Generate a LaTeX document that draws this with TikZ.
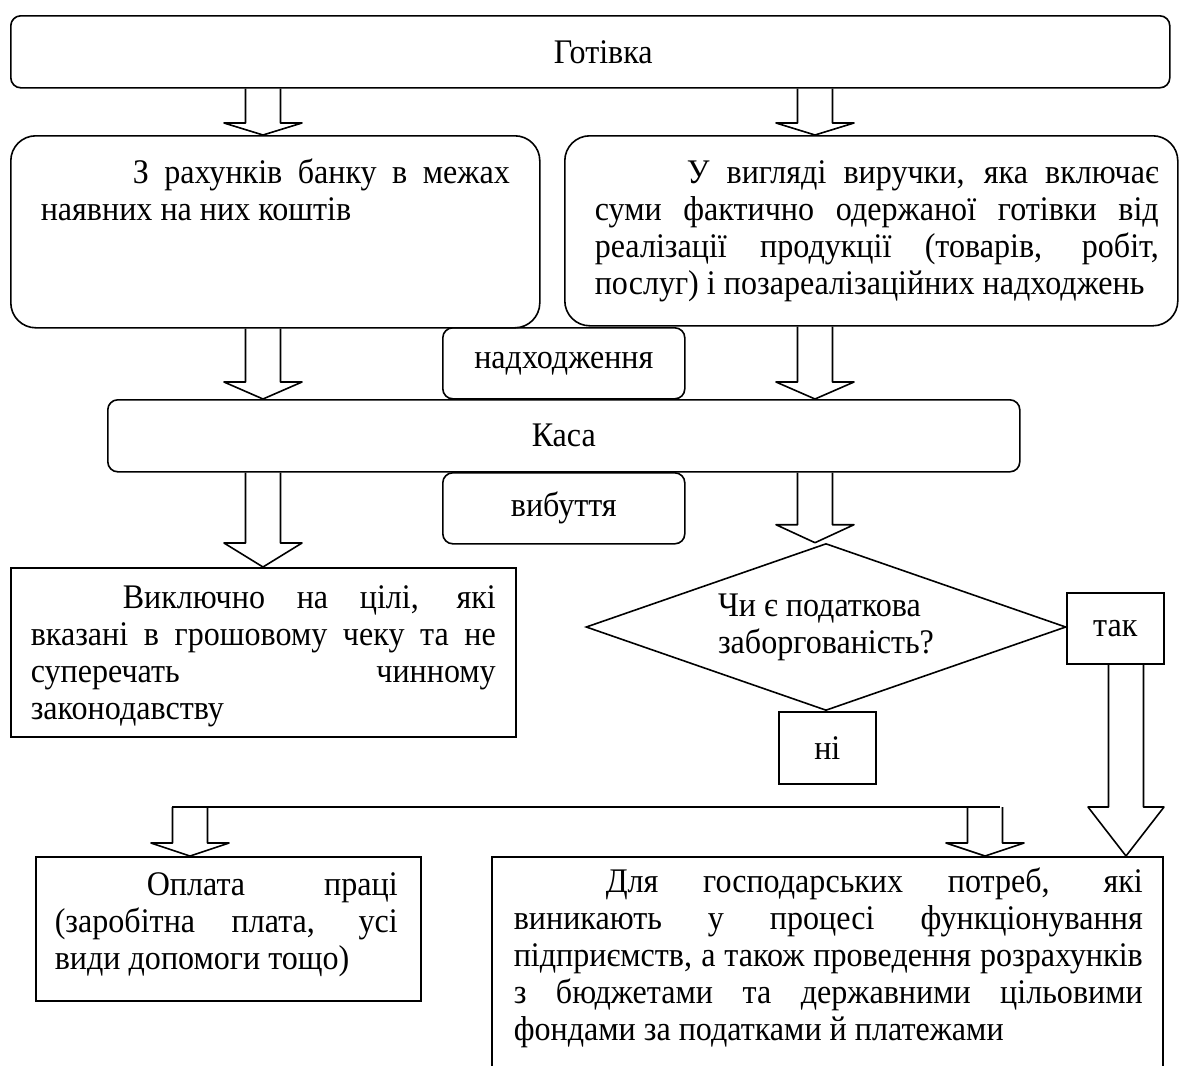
\documentclass[tikz,border=0pt]{standalone}
\usepackage{fontspec}
\setmainfont{Liberation Serif}[FakeStretch=0.93]
\usetikzlibrary{positioning, calc}
\usetikzlibrary{shapes.geometric}

\begin{document}
\begin{tikzpicture}[x=1pt,y=-1pt,line width=1.6pt,font=\fontsize{34.5}{37}\selectfont]
	\def\hollowarrow#1#2#3#4{% head length, head half width, from, to
		\draw[hollow] ($(#3)+(-17.5,0)$) -- ($(#4)+(-17.5,-#1)$) -- ($(#4)+(-#2,-#1)$) -- (#4)
			-- ($(#4)+(#2,-#1)$) -- ($(#4)+(17.5,-#1)$) -- ($(#3)+(17.5,0)$);}
	\tikzstyle{rbox}=[draw,rounded corners=10pt,inner sep=0pt,anchor=north west]
	\tikzstyle{sbox}=[draw,inner sep=0pt,anchor=north west]
	\tikzstyle{para}=[inner sep=0pt,align=justify,anchor=base west]
	\tikzstyle{decision}=[diamond,draw,shape aspect=2.87,inner sep=0pt,minimum width=480pt,minimum height=167pt,align=left]
	\tikzstyle{hollow}=[line join=round]

	\path[fill=white] (0,0) rectangle (1179,1066);
	\clip (0,0) rectangle (1179,1066);

	% arrow columns
	\coordinate (colL) at (263,0);
	\coordinate (colR) at (815,0);
	\coordinate (colY) at (1126,0);
	\coordinate (colW) at (190,0);
	\coordinate (colN) at (985,0);

	% cash and its sources
	\node[rbox,minimum width=1159pt,minimum height=72pt] (cash) at (10,15) {\hspace*{26pt}Готівка};
	\node[rbox,rounded corners=25pt,minimum width=529pt,minimum height=192pt] (bank) at (10,135) {};
	\node[para,text width=469pt] (bank-text) at (40,183)
		{\hspace*{92pt}З рахунків банку в межах\linebreak наявних на них коштів};
	\node[rbox,rounded corners=25pt,minimum width=613pt,minimum height=190pt] (revenue) at (564,135) {};
	\node[para,text width=564pt] (revenue-text) at (594,183)
		{\hspace*{92pt}У вигляді виручки, яка включає\linebreak суми фактично одержаної готівки від\linebreak
		реалізації продукції (товарів, робіт,\linebreak послуг) і позареалізаційних надходжень};

	% cash desk
	\node[rbox,minimum width=242pt,minimum height=71pt] (inflow) at (442,327) {надходження};
	\node[rbox,minimum width=912pt,minimum height=72pt] (kasa) at (107,399) {Каса};
	\node[rbox,minimum width=242pt,minimum height=71pt] (outflow) at (442,472) {вибуття};

	% outflow
	\node[sbox,minimum width=505pt,minimum height=169pt] (purpose) at (10,567) {};
	\node[para,text width=465pt] (purpose-text) at (30,608)
		{\hspace*{92pt}Виключно на цілі, які\linebreak вказані в грошовому чеку та не\linebreak
		суперечать чинному\linebreak законодавству};
	\node[decision] (taxq) at (826,627) {Чи є податкова\\заборгованість?};
	\node[sbox,minimum width=97pt,minimum height=71pt] (yes) at (1066,592) {так};
	\node[sbox,minimum width=97pt,minimum height=72pt] (no) at (778,711) {ні};

	% payments
	\node[sbox,minimum width=385pt,minimum height=144pt] (wages) at (35,856) {};
	\node[para,text width=343pt] (wages-text) at (54,895)
		{\hspace*{92pt}Оплата праці\linebreak (заробітна плата, усі\linebreak види допомоги тощо)};
	\node[sbox,minimum width=671pt,minimum height=260pt] (needs) at (491,856) {};
	\node[para,text width=629pt] (needs-text) at (513,892)
		{\hspace*{92pt}Для господарських потреб, які\linebreak виникають у процесі функціонування\linebreak
		підприємств, а також проведення розрахунків\linebreak з бюджетами та державними цільовими\linebreak
		фондами за податками й платежами};

	% arrows
	\hollowarrow{12}{39}{cash.south -| colL}{bank.north -| colL}
	\hollowarrow{12}{39}{cash.south -| colR}{revenue.north -| colR}
	\hollowarrow{17}{39}{bank.south -| colL}{kasa.north -| colL}
	\hollowarrow{17}{39}{revenue.south -| colR}{kasa.north -| colR}
	\hollowarrow{24}{39}{kasa.south -| colL}{purpose.north -| colL}
	\hollowarrow{18}{39}{kasa.south -| colR}{taxq.north -| colR}
	\hollowarrow{49}{38}{yes.south -| colY}{needs.north -| colY}

	\coordinate (split-left) at (172,807);
	\coordinate (split-right) at (1000,807);
	\draw (split-left) -- (split-right);
	\hollowarrow{13}{39}{split-left -| colW}{wages.north -| colW}
	\hollowarrow{13}{39}{split-left -| colN}{needs.north -| colN}
\end{tikzpicture}
\end{document}
